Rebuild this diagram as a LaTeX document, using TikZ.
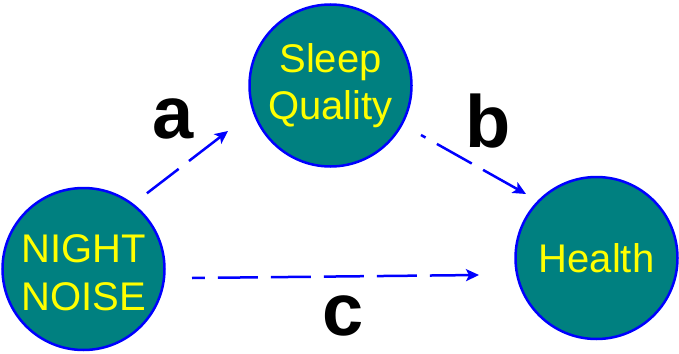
\documentclass[tikz,border=0pt]{standalone}
\usepackage{fontspec}
\setmainfont{Liberation Sans}
\usetikzlibrary{arrows.meta}
\definecolor{tealfill}{RGB}{0,128,128}
\definecolor{txtyellow}{RGB}{255,255,0}
\definecolor{lineblue}{RGB}{0,0,255}
\begin{document}
\begin{tikzpicture}[x=1pt,y=-1pt,
  varcircle/.style={circle,draw=lineblue,line width=2.5pt,fill=tealfill,
    minimum size=162pt,inner sep=0pt,text=txtyellow,align=center,
    font=\fontsize{40}{47}\selectfont},
  pathlabel/.style={font=\fontsize{74}{80}\selectfont\bfseries,anchor=base,inner sep=0pt},
  pathline/.style={draw=lineblue,line width=2.5pt,dash pattern=on 40pt off 13pt,
    {Stealth[length=13pt,width=12pt,inset=3pt]}-}
]
\useasboundingbox (0,0) rectangle (679,353);
\node[varcircle] (sleep) at (330.5,85.5) {Sleep\\Quality};
\node[varcircle] (noise) at (83.5,269) {};
\node[text=txtyellow,align=center,font=\fontsize{40}{48}\selectfont,inner sep=0pt]
  (noisetext) at (83.5,273) {NIGHT\\NOISE};
\node[varcircle] (health) at (596.5,258) {Health};

\coordinate (a1) at (146,194);
\coordinate (a2) at (228,131);
\coordinate (b1) at (421,135);
\coordinate (b2) at (526,194);
\coordinate (c1) at (192,278);
\coordinate (c2) at (479,275);

\draw[pathline] (a2) -- (a1);
\draw[pathline] (b2) -- (b1);
\draw[pathline] (c2) -- (c1);

\node[pathlabel] (la) at (173,138) {a};
\node[pathlabel] (lb) at (488,147) {b};
\node[pathlabel] (lc) at (343,335) {c};
\end{tikzpicture}
\end{document}
